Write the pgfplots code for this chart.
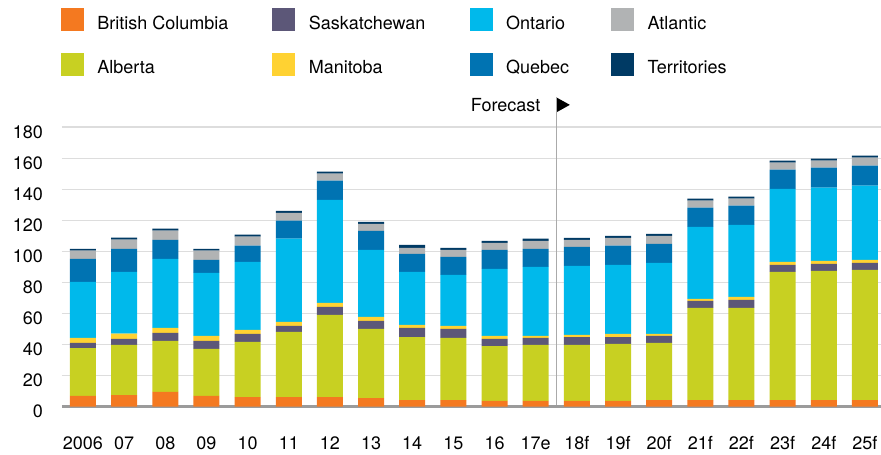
\documentclass[border=0pt]{standalone}
\usepackage{pgfplots}
\pgfplotsset{compat=1.18}
\usepackage{pgfplotstable}
\usepackage{fontspec}
\setmainfont{TeX Gyre Heros}
\definecolor{cBC}{RGB}{244,121,32}
\definecolor{cAB}{RGB}{200,208,34}
\definecolor{cSK}{RGB}{92,87,120}
\definecolor{cMB}{RGB}{255,210,50}
\definecolor{cON}{RGB}{0,185,235}
\definecolor{cQC}{RGB}{0,115,178}
\definecolor{cAT}{RGB}{177,179,180}
\definecolor{cTR}{RGB}{0,58,100}
\definecolor{gridc}{RGB}{221,221,221}
\definecolor{zeroc}{RGB}{155,155,155}
\definecolor{fcline}{RGB}{170,170,170}

\pgfplotstableread{
x  BC  AB   SK  MB  ON   QC   AT  TR
0  6.9 30.9 3.3 3.2 36.1 14.9 5.3 1.1
1  7.5 32.3 3.9 3.4 39.8 14.8 6.0 1.3
2  9.5 32.9 5.1 3.3 44.5 12.2 6.0 1.3
3  6.9 30.3 5.2 3.2 40.6 8.4  6.0 1.1
4  6.2 35.5 5.2 2.6 43.8 10.4 5.8 1.3
5  6.2 42.0 3.8 2.6 53.6 11.6 5.1 1.3
6  6.2 52.9 5.2 2.6 66.4 12.3 4.5 1.3
7  5.6 44.5 5.2 2.5 43.3 12.2 4.5 1.3
8  4.3 40.6 5.9 1.9 34.2 11.6 3.9 1.9
9  4.3 40.0 5.8 1.9 32.9 11.7 4.5 1.3
10 3.7 35.4 4.6 1.9 43.2 12.3 4.5 1.3
11 3.7 36.1 4.5 1.3 44.5 11.6 5.2 1.3
12 3.7 36.1 5.1 1.3 44.6 12.2 4.5 1.3
13 3.7 36.7 4.5 2.0 44.5 12.3 5.1 1.3
14 4.3 36.8 4.5 1.3 45.8 12.2 5.2 1.3
15 4.3 59.4 4.5 1.3 46.4 12.3 4.5 1.3
16 4.3 59.4 5.1 2.0 46.4 12.3 4.5 1.3
17 4.3 82.6 4.5 1.9 47.1 12.3 4.5 1.3
18 4.3 83.2 4.5 2.0 47.1 12.9 4.5 1.3
19 4.3 83.9 4.5 1.9 47.8 12.9 5.1 1.3
}\data

\begin{document}
\begin{tikzpicture}[font=\fontsize{18}{21.6}\selectfont]
\useasboundingbox (0,0) rectangle (881pt,455pt);
\begin{axis}[
  at={(62pt,48.3pt)}, anchor=south west,
  scale only axis, width=819pt, height=279.4pt,
  xmin=-0.51, xmax=19.39, ymin=0, ymax=180,
  ybar stacked, bar width=26pt,
  axis line style={draw=none},
  major tick length=0pt,
  ytick={0,20,...,180},
  ymajorgrids, grid style={line width=1.6pt, color=gridc},
  xtick={0,...,19},
  xticklabels={2006,07,08,09,10,11,12,13,14,15,16,17e,18f,19f,20f,21f,22f,23f,24f,25f},
  /pgf/number format/assume math mode=true,
  yticklabel style={anchor=east, inner sep=0pt, xshift=-19pt, yshift=-4.7pt},
  xticklabel style={anchor=base, inner sep=0pt, yshift=-43pt},
  every tick label/.append style={font=\fontsize{18}{21.6}\selectfont},
  clip=false,
  legend columns=4,
  legend cell align=left,
  legend style={at={(-0.0012,1.427)}, anchor=north west, draw=none, fill=none,
    inner sep=0pt, outer sep=0pt, row sep=22pt, nodes={inner sep=0pt},
    font=\fontsize{18}{21.6}\selectfont,
    /tikz/every odd column/.append style={column sep=14pt},
    /tikz/every even column/.append style={column sep=0pt}},
]
\addlegendimage{legend image code/.code={\fill[cBC] (0pt,-7pt) rectangle (22pt,15pt);}}
\addlegendimage{legend image code/.code={\fill[cSK] (0pt,-7pt) rectangle (22pt,15pt);}}
\addlegendimage{legend image code/.code={\fill[cON] (0pt,-7pt) rectangle (22pt,15pt);}}
\addlegendimage{legend image code/.code={\fill[cAT] (0pt,-7pt) rectangle (22pt,15pt);}}
\addlegendimage{legend image code/.code={\fill[cAB] (0pt,-7pt) rectangle (22pt,15pt);}}
\addlegendimage{legend image code/.code={\fill[cMB] (0pt,-7pt) rectangle (22pt,15pt);}}
\addlegendimage{legend image code/.code={\fill[cQC] (0pt,-7pt) rectangle (22pt,15pt);}}
\addlegendimage{legend image code/.code={\fill[cTR] (0pt,-7pt) rectangle (22pt,15pt);}}
\legend{\makebox[175pt][l]{British Columbia}, \makebox[161pt][l]{Saskatchewan}, \makebox[105pt][l]{Ontario}, \makebox[90pt][l]{Atlantic},
        \makebox[175pt][l]{Alberta}, \makebox[161pt][l]{Manitoba}, \makebox[105pt][l]{Quebec}, \makebox[90pt][l]{Territories}}

\addplot[fill=cBC, draw=none] table[x=x, y=BC] {\data};
\addplot[fill=cAB, draw=none] table[x=x, y=AB] {\data};
\addplot[fill=cSK, draw=none] table[x=x, y=SK] {\data};
\addplot[fill=cMB, draw=none] table[x=x, y=MB] {\data};
\addplot[fill=cON, draw=none] table[x=x, y=ON] {\data};
\addplot[fill=cQC, draw=none] table[x=x, y=QC] {\data};
\addplot[fill=cAT, draw=none] table[x=x, y=AT] {\data};
\addplot[fill=cTR, draw=none] table[x=x, y=TR] {\data};

\draw[line width=2.7pt, color=zeroc] (rel axis cs:0,0) -- (rel axis cs:1,0);
\draw[color=fcline, line width=1.5pt] (axis cs:11.5,0) -- (axis cs:11.5,199.3);
\fill[black] (axis cs:11.5,199.3) -- (axis cs:11.5,189.6) -- ([xshift=13.6pt]axis cs:11.5,194.45) -- cycle;
\node[anchor=east, inner sep=0pt] at ([xshift=-15.7pt]axis cs:11.5,194.45) {Forecast};
\end{axis}
\end{tikzpicture}
\end{document}
